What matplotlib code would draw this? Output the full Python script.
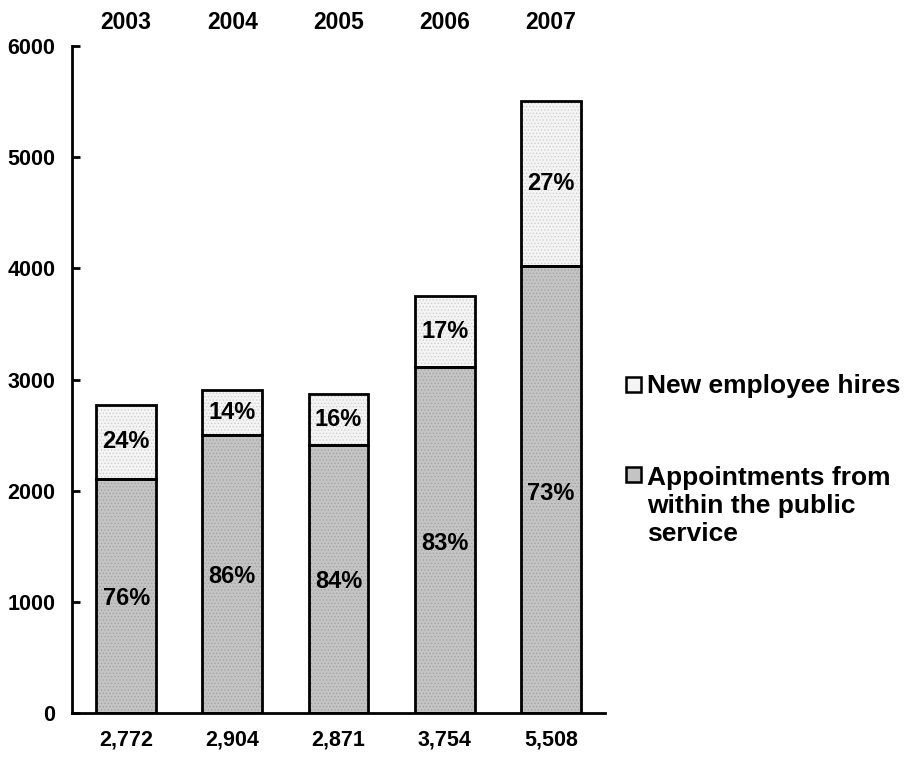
import numpy as np
import matplotlib.pyplot as plt
from matplotlib.patches import Rectangle

plt.rcParams['font.family'] = ['Liberation Sans', 'DejaVu Sans']
plt.rcParams['font.weight'] = 'bold'
plt.rcParams['hatch.linewidth'] = 0.6

# data
years = ['2003', '2004', '2005', '2006', '2007']
totals = [2772, 2904, 2871, 3754, 5508]
total_labels = ['2,772', '2,904', '2,871', '3,754', '5,508']
internal = [2107, 2497, 2412, 3116, 4021]
new_hires = [665, 407, 459, 638, 1487]
internal_pct = ['76%', '86%', '84%', '83%', '73%']
new_pct = ['24%', '14%', '16%', '17%', '27%']

fig = plt.figure(figsize=(9.08, 7.59), dpi=100)
ax = fig.add_axes([0.0793, 0.0606, 0.587, 0.8788])

x = np.arange(len(years))
w = 0.565

# filled parts with dotted texture (no edge), then outlines
ax.bar(x, internal, w, color='#c4c4c4', edgecolor='#a4a4a4', hatch='.....', linewidth=0)
ax.bar(x, new_hires, w, bottom=internal, color='#f4f4f4', edgecolor='#d0d0d0', hatch='.....', linewidth=0)
ax.bar(x, internal, w, fill=False, edgecolor='black', linewidth=2)
ax.bar(x, new_hires, w, bottom=internal, fill=False, edgecolor='black', linewidth=2)

for i in range(len(years)):
    ax.text(x[i], internal[i] * 0.49, internal_pct[i], ha='center', va='center',
            fontsize=17, fontweight='bold')
    ax.text(x[i], internal[i] + new_hires[i] * 0.5, new_pct[i], ha='center', va='center',
            fontsize=17, fontweight='bold')
    ax.text(x[i], 6215, years[i], ha='center', va='center',
            fontsize=16.5, fontweight='bold', clip_on=False)
    ax.text(x[i], -243, total_labels[i], ha='center', va='center',
            fontsize=15.5, fontweight='bold', clip_on=False)

ax.set_xlim(-0.51, 4.51)
ax.set_ylim(0, 6000)
ax.set_yticks(range(0, 6001, 1000))
ax.tick_params(axis='y', direction='in', length=6, width=2, labelsize=15.5, pad=12)
ax.set_xticks([])
for lab in ax.get_yticklabels():
    lab.set_fontweight('bold')
ax.spines['top'].set_visible(False)
ax.spines['right'].set_visible(False)
ax.spines['left'].set_linewidth(2)
ax.spines['bottom'].set_linewidth(2)

# legend drawn by hand
fig.add_artist(Rectangle((626 / 908, 1 - 392 / 759), 15 / 908, 15 / 759,
                         facecolor='#f4f4f4', edgecolor='black', linewidth=1.8,
                         transform=fig.transFigure))
fig.text(647 / 908, 1 - 393 / 759, 'New employee hires', fontsize=19,
         fontweight='bold', va='baseline')
fig.add_artist(Rectangle((626 / 908, 1 - 482 / 759), 15 / 908, 15 / 759,
                         facecolor='#c4c4c4', edgecolor='black', linewidth=1.8,
                         transform=fig.transFigure))
fig.text(647 / 908, 1 - 466 / 759, 'Appointments from\nwithin the public\nservice',
         fontsize=19, fontweight='bold', va='top', linespacing=1.22)

fig.savefig('out.png', dpi=100)
